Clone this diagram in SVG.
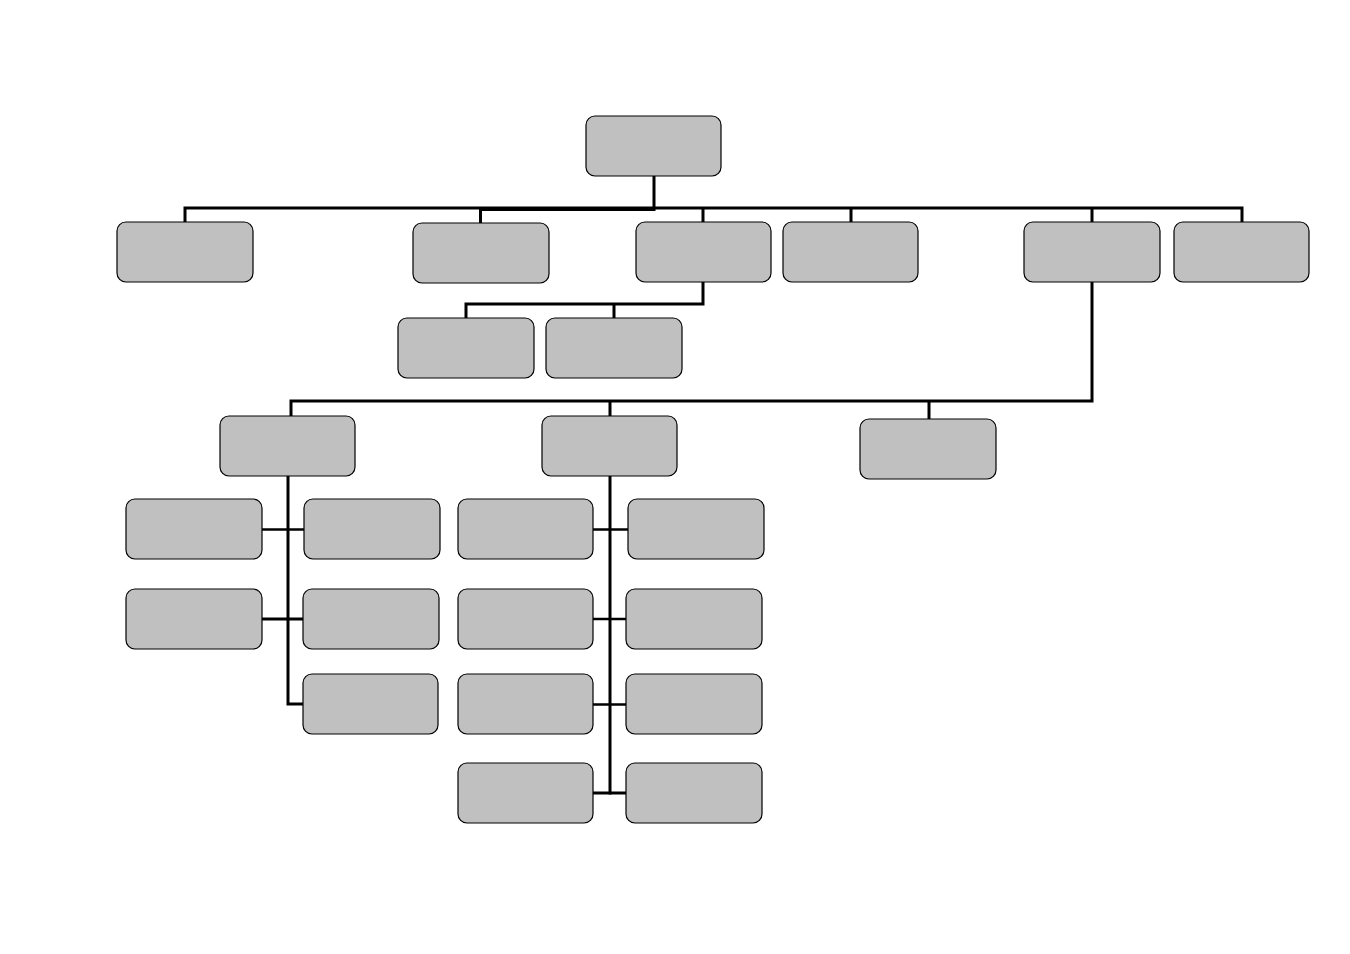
<svg xmlns="http://www.w3.org/2000/svg" width="1350" height="954" viewBox="0 0 1350 954">
<style>
.n{fill:#c0c0c0;stroke:#000;stroke-width:1.2}
.c{fill:none;stroke:#000;stroke-width:3;stroke-linecap:square}
.t{fill:none;stroke:#000;stroke-width:2.5}
</style>
<rect width="1350" height="954" fill="#fff"/>
<g id="connectors">
<path class="c" d="M654 176V208M185 222V208H1242V222M480.5 208V223M703 208V222M851 208V222M1092 208V222"/>
<path class="c" d="M654 209.5H480.5"/>
<path class="c" d="M703 282V304H466V318M614 304V318"/>
<path class="c" d="M1092 282V401H291V416M610 401V416M929 401V419"/>
<path class="c" d="M288 476V704H303"/>
<path class="t" d="M262 529.5H304"/>
<path class="c" d="M262 619H303"/>
<path class="c" d="M610 476V793"/>
<path class="t" d="M593 529.5H628M593 619H626M593 704.5H626"/>
<path class="c" d="M593 793H626"/>
</g>
<g id="root"><rect class="n" x="586" y="116" width="135" height="60" rx="9"/></g>
<g id="n1a"><rect class="n" x="117" y="222" width="136" height="60" rx="9"/></g>
<g id="n1b"><rect class="n" x="413" y="223" width="136" height="60" rx="9"/></g>
<g id="n1c"><rect class="n" x="636" y="222" width="135" height="60" rx="9"/></g>
<g id="n1d"><rect class="n" x="783" y="222" width="135" height="60" rx="9"/></g>
<g id="n1e"><rect class="n" x="1024" y="222" width="136" height="60" rx="9"/></g>
<g id="n1f"><rect class="n" x="1174" y="222" width="135" height="60" rx="9"/></g>
<g id="nc1"><rect class="n" x="398" y="318" width="136" height="60" rx="9"/></g>
<g id="nc2"><rect class="n" x="546" y="318" width="136" height="60" rx="9"/></g>
<g id="ne1"><rect class="n" x="220" y="416" width="135" height="60" rx="9"/></g>
<g id="ne2"><rect class="n" x="542" y="416" width="135" height="60" rx="9"/></g>
<g id="ne3"><rect class="n" x="860" y="419" width="136" height="60" rx="9"/></g>
<g id="ne1l1"><rect class="n" x="126" y="499" width="136" height="60" rx="9"/></g>
<g id="ne1r1"><rect class="n" x="304" y="499" width="136" height="60" rx="9"/></g>
<g id="ne1l2"><rect class="n" x="126" y="589" width="136" height="60" rx="9"/></g>
<g id="ne1r2"><rect class="n" x="303" y="589" width="136" height="60" rx="9"/></g>
<g id="ne1r3"><rect class="n" x="303" y="674" width="135" height="60" rx="9"/></g>
<g id="ne2l1"><rect class="n" x="458" y="499" width="135" height="60" rx="9"/></g>
<g id="ne2r1"><rect class="n" x="628" y="499" width="136" height="60" rx="9"/></g>
<g id="ne2l2"><rect class="n" x="458" y="589" width="135" height="60" rx="9"/></g>
<g id="ne2r2"><rect class="n" x="626" y="589" width="136" height="60" rx="9"/></g>
<g id="ne2l3"><rect class="n" x="458" y="674" width="135" height="60" rx="9"/></g>
<g id="ne2r3"><rect class="n" x="626" y="674" width="136" height="60" rx="9"/></g>
<g id="ne2l4"><rect class="n" x="458" y="763" width="135" height="60" rx="9"/></g>
<g id="ne2r4"><rect class="n" x="626" y="763" width="136" height="60" rx="9"/></g>
</svg>
